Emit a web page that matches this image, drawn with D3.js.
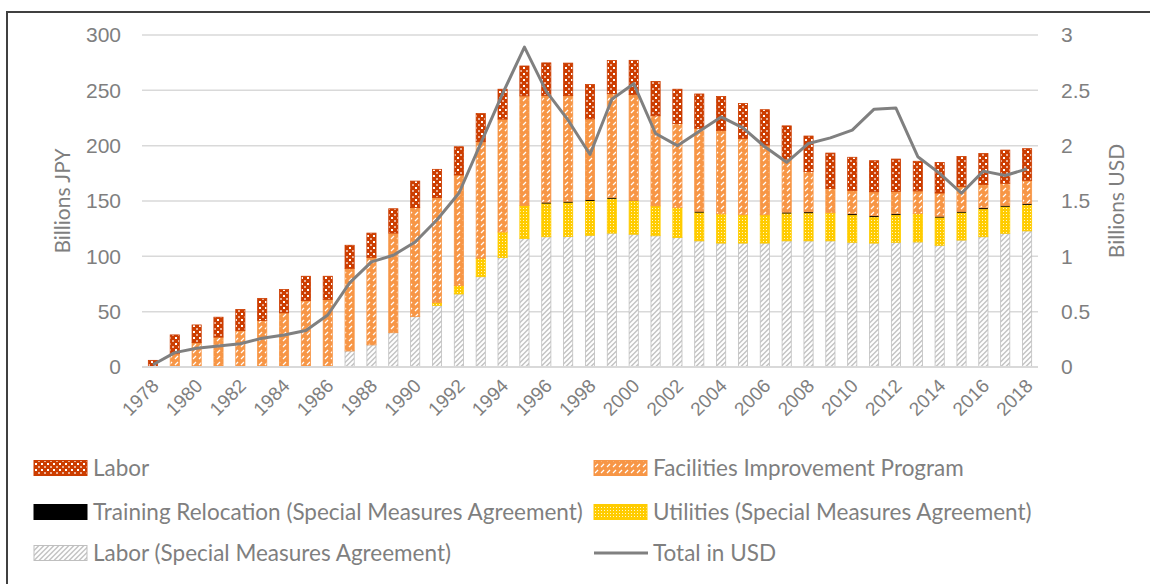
<!DOCTYPE html>
<html>
<head>
<meta charset="utf-8">
<script src="https://cdn.jsdelivr.net/npm/d3@7"></script>
<style>
  body { margin: 0; background: #fff; }
  svg { display: block; font-family: Lato, "Open Sans", sans-serif; }
</style>
</head>
<body>
<div id="chart"></div>
<script>
// ==================== données ====================//
const years = d3.range(1978, 2019);

// Labor (Special Measures Agreement)
const laborSMA = [0,0,0,0,0,0,0,0,0,14.5,20,31,45.5,55.7,66,81.6,99,116,117.7,118,119,121,120,118.6,117,114,112,112,112,114,114,114,112.7,112,112.7,113,110,114.7,117.7,120.8,123];
// Utilities (Special Measures Agreement)
const utilities = [0,0,0,0,0,0,0,0,0,0,0,0,0,2.4,7.5,16.6,23,30,30,30.5,31,31,30,27,27,25.5,26.4,25.5,25.5,24.7,25,25.3,24.6,23.5,24.6,25.6,25,24.7,25,24,23.5];
// Training Relocation (Special Measures Agreement)
const training = [0,0,0,0,0,0,0,0,0,0,0,0,0,0,0,0,0,0,1.2,1.2,1.2,1.2,0.6,0,0,1.2,0,0,0,1.2,1.2,0,1.2,1.2,1.2,0,1.2,1.2,1.2,1.2,1.2];
// Facilities Improvement Program
const fip = [0,12,22,27,33,42,49,60,61,74.5,79,90,98.5,95,100,105.4,102,99,96.5,95.5,73,93.7,95.5,81.4,76,75,75.4,69,63,48,36.5,22,21,21.7,20.2,20.5,21,22.6,21,20,21];
// Labor
const labor = [6,17,16,18,19,20,21,22,21,21,22,22,24,25.5,25.5,25.4,27,27,29.4,29.4,31,30,31,31,31,31,30.6,31.6,32,30,32,32,30,28,29.2,26.8,27.6,27,28,30,28.6];
// Total in USD
const totalUSD = [0.02,0.13,0.17,0.19,0.21,0.26,0.29,0.33,0.47,0.76,0.95,1.01,1.13,1.33,1.57,2.02,2.47,2.89,2.49,2.23,1.92,2.42,2.56,2.11,2.0,2.13,2.26,2.16,1.99,1.85,2.02,2.07,2.14,2.33,2.34,1.90,1.75,1.57,1.77,1.73,1.79];

const jpyTicks = [0, 50, 100, 150, 200, 250, 300];
const usdTicks = [0, 0.5, 1, 1.5, 2, 2.5, 3];

const seriesKeys = ["laborSMA", "utilities", "training", "fip", "labor"];
const legendItems = [
    { key: "labor", label: "Labor", col: 0, row: 0 },
    { key: "fip", label: "Facilities Improvement Program", col: 1, row: 0 },
    { key: "training", label: "Training Relocation (Special Measures Agreement)", col: 0, row: 1 },
    { key: "utilities", label: "Utilities (Special Measures Agreement)", col: 1, row: 1 },
    { key: "laborSMA", label: "Labor (Special Measures Agreement)", col: 0, row: 2 },
    { key: "line", label: "Total in USD", col: 1, row: 2 }
];

// table pour d3.stack
const rows = years.map((y, i) => ({
    year: y,
    laborSMA: laborSMA[i],
    utilities: utilities[i],
    training: training[i],
    fip: fip[i],
    labor: labor[i],
    usd: totalUSD[i]
}));

// ==================== SVG ====================//
const width = 1150;
const height = 584;
const plot = { left: 142, right: 1038, top: 35, bottom: 367 };
const textColor = "#7f7f7f";

const svg = d3.select("#chart")
    .append("svg")
    .attr("width", width)
    .attr("height", height);

// cadre du graphique
svg.append("path")
    .attr("d", "M7,584 L7,12 L1150,12")
    .attr("fill", "none")
    .attr("stroke", "#404040")
    .attr("stroke-width", 2);

// motifs (hachures façon Excel)
const defs = svg.append("defs");

function pattern(id, size, bg) {
    const p = defs.append("pattern")
        .attr("id", id)
        .attr("patternUnits", "userSpaceOnUse")
        .attr("width", size)
        .attr("height", size);
    p.append("rect").attr("width", size).attr("height", size).attr("fill", bg);
    return p;
}

const pLabor = pattern("p-labor", 6, "#cc3d00");
pLabor.append("rect").attr("x", 1).attr("y", 1).attr("width", 2).attr("height", 2).attr("fill", "#fff");
pLabor.append("rect").attr("x", 4).attr("y", 4).attr("width", 2).attr("height", 2).attr("fill", "#fff").attr("opacity", 0.6);

const pFip = pattern("p-fip", 6, "#f79646");
pFip.append("path").attr("d", "M1,5 L4,2").attr("stroke", "#fff").attr("stroke-width", 1.3);

const pUtil = pattern("p-util", 3, "#ffcc00");
pUtil.append("rect").attr("x", 1).attr("y", 1).attr("width", 1).attr("height", 1).attr("fill", "#fff").attr("opacity", 0.8);

const pSma = pattern("p-sma", 5, "#c4c4c4");
pSma.append("path").attr("d", "M-1,6 L6,-1 M-1,1 L1,-1 M4,6 L6,4").attr("stroke", "#fff").attr("stroke-width", 2);

const fills = {
    laborSMA: "url(#p-sma)",
    utilities: "url(#p-util)",
    training: "#000",
    fip: "url(#p-fip)",
    labor: "url(#p-labor)"
};
const strokes = {
    laborSMA: "#bfbfbf",
    utilities: "#ffcc00",
    training: "#000",
    fip: "#f79646",
    labor: "#cc3d00"
};

// ==================== échelles ====================//
const x = d3.scaleBand()
    .domain(years)
    .range([plot.left, plot.right])
    .paddingInner(0.58)
    .paddingOuter(0.29);

const y = d3.scaleLinear().domain([0, 300]).range([plot.bottom, plot.top]);
const y2 = d3.scaleLinear().domain([0, 3]).range([plot.bottom, plot.top]);

// grille
svg.append("g")
    .selectAll("line")
    .data(jpyTicks)
    .enter()
    .append("line")
    .attr("x1", plot.left)
    .attr("x2", plot.right)
    .attr("y1", d => y(d))
    .attr("y2", d => y(d))
    .attr("stroke", "#d9d9d9")
    .attr("stroke-width", 1.5);

// axe gauche
const axisLeft = svg.append("g")
    .attr("transform", `translate(${plot.left - 21},0)`)
    .call(d3.axisLeft(y).tickValues(jpyTicks).tickSize(0).tickPadding(0));
axisLeft.select(".domain").remove();
axisLeft.selectAll("text")
    .attr("fill", textColor)
    .style("font-size", "21px");

// axe droit
const axisRight = svg.append("g")
    .attr("transform", `translate(${plot.right + 23},0)`)
    .call(d3.axisRight(y2).tickValues(usdTicks).tickSize(0).tickPadding(0).tickFormat(d3.format("")));
axisRight.select(".domain").remove();
axisRight.selectAll("text")
    .attr("fill", textColor)
    .style("font-size", "21px");

// axe x : une année sur deux
const axisBottom = svg.append("g")
    .attr("transform", `translate(0,${plot.bottom})`)
    .call(d3.axisBottom(x).tickValues(years.filter(d => (d - 1978) % 2 === 0)).tickSize(0).tickPadding(0));
axisBottom.select(".domain").remove();
axisBottom.selectAll("text")
    .attr("fill", textColor)
    .style("font-size", "19px")
    .attr("text-anchor", "end")
    .attr("dy", null)
    .attr("y", 0)
    .attr("transform", "translate(7,20) rotate(-45)");

// titres des axes
svg.append("text")
    .attr("transform", `translate(70,${(plot.top + plot.bottom) / 2}) rotate(-90)`)
    .attr("text-anchor", "middle")
    .attr("fill", textColor)
    .style("font-size", "21px")
    .text("Billions JPY");

svg.append("text")
    .attr("transform", `translate(1124,${(plot.top + plot.bottom) / 2}) rotate(-90)`)
    .attr("text-anchor", "middle")
    .attr("fill", textColor)
    .style("font-size", "21px")
    .text("Billions USD");

// ==================== barres empilées ====================//
const stacked = d3.stack().keys(seriesKeys)(rows);

svg.append("g")
    .selectAll("g")
    .data(stacked)
    .enter()
    .append("g")
    .attr("fill", d => fills[d.key])
    .attr("stroke", d => d.key === "training" ? "none" : strokes[d.key])
    .attr("stroke-width", 0.8)
    .selectAll("rect")
    .data(d => d.filter(s => s[1] - s[0] > 0))
    .enter()
    .append("rect")
    .attr("x", d => x(d.data.year))
    .attr("width", x.bandwidth())
    .attr("y", d => y(d[1]))
    .attr("height", d => y(d[0]) - y(d[1]));

// baseline
svg.append("line")
    .attr("x1", plot.left)
    .attr("x2", plot.right)
    .attr("y1", y(0))
    .attr("y2", y(0))
    .attr("stroke", "#d9d9d9")
    .attr("stroke-width", 2);

// ==================== ligne USD ====================//
const line = d3.line()
    .x(d => x(d.year) + x.bandwidth() / 2)
    .y(d => y2(d.usd));

svg.append("path")
    .datum(rows)
    .attr("d", line)
    .attr("fill", "none")
    .attr("stroke", "#808080")
    .attr("stroke-width", 3)
    .attr("stroke-linejoin", "round");

// ==================== légende ====================//
const legendCols = [34, 594];
const legendRows = [468, 512, 553];

const legend = svg.append("g")
    .selectAll("g")
    .data(legendItems)
    .enter()
    .append("g")
    .attr("transform", d => `translate(${legendCols[d.col]},${legendRows[d.row]})`);

legend.each(function(d) {
    const g = d3.select(this);
    if (d.key === "line") {
        g.append("line")
            .attr("x1", 0).attr("x2", 54)
            .attr("y1", 0).attr("y2", 0)
            .attr("stroke", "#808080")
            .attr("stroke-width", 3);
    } else {
        g.append("rect")
            .attr("x", 0).attr("y", -7.5)
            .attr("width", 53).attr("height", 15)
            .attr("fill", fills[d.key])
            .attr("stroke", strokes[d.key])
            .attr("stroke-width", 1);
    }
    g.append("text")
        .attr("x", 59)
        .attr("y", 0)
        .attr("dy", "0.35em")
        .attr("fill", textColor)
        .style("font-size", "22.5px")
        .text(d.label);
});
</script>
</body>
</html>
